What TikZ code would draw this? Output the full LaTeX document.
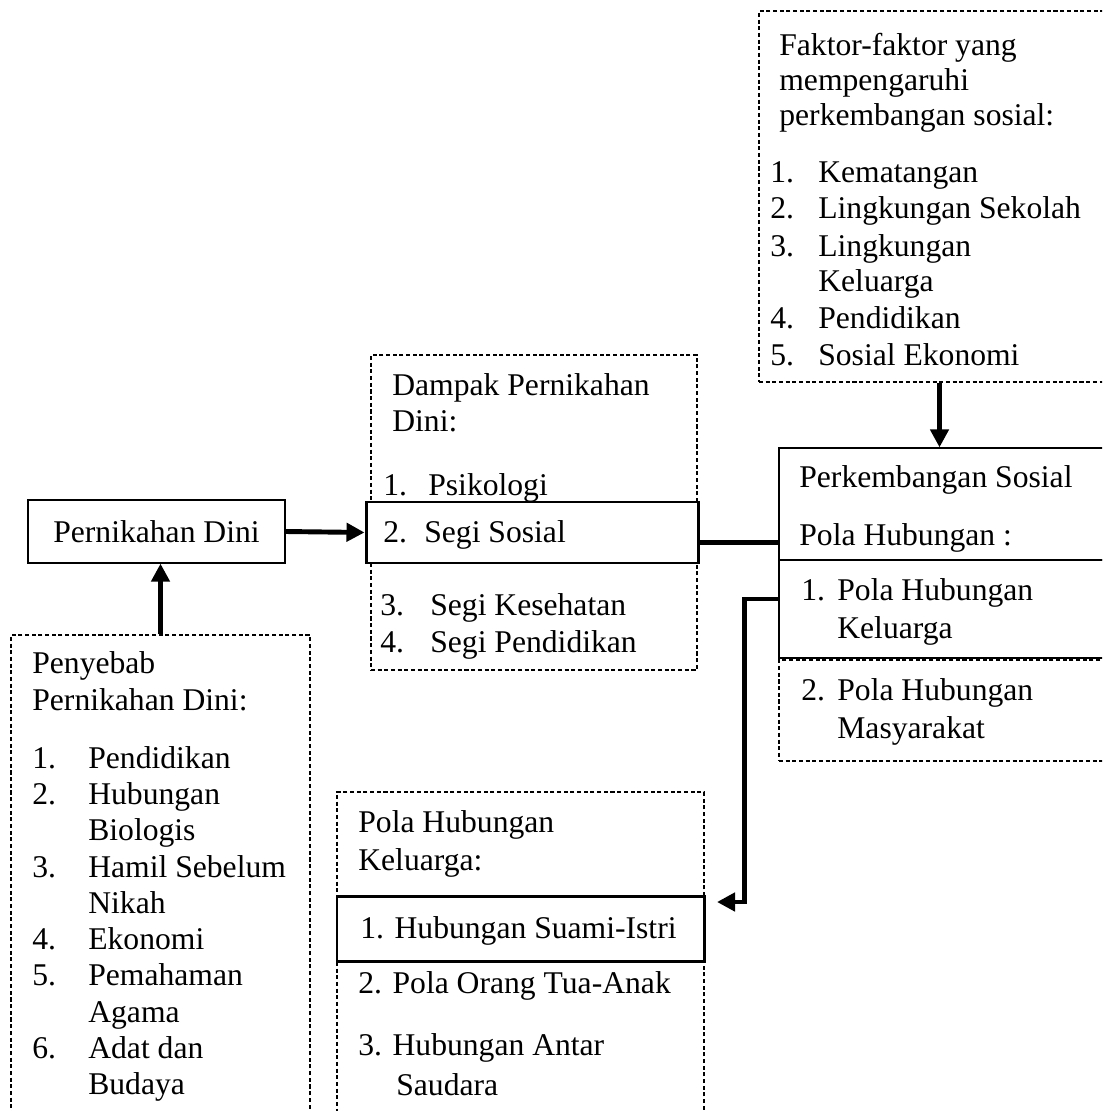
\documentclass[tikz,border=0pt]{standalone}
\usepackage{fontspec}
\setmainfont{Liberation Serif}
\usetikzlibrary{arrows.meta}
\usetikzlibrary{fit}

\begin{document}
\begin{tikzpicture}[x=0.02cm, y=-0.02cm,
  every node/.style={inner sep=0pt, font=\fontsize{18pt}{21pt}\selectfont},
  txt/.style={anchor=base west},
  dashbox/.style={draw, dash pattern=on 2.3pt off 1.5pt, line width=0.6pt},
  thinbox/.style={draw, fill=white, line width=0.7pt},
  thickbox/.style={draw, fill=white, line width=1.7pt},
  arr/.style={line width=2.8pt, -{Triangle[length=0.36cm, width=0.36cm]}},
  link/.style={line width=2.8pt}]
\useasboundingbox (0,0) rectangle (1102,1111);
\clip (0,0) rectangle (1102,1111);

% boxes
\node[dashbox, fit={(759,11) (1120,382)}] (faktor) {};
\node[dashbox, fit={(371,355) (697,670)}] (dampak) {};
\node[thickbox, fit={(366,502) (698,563)}] (sosial) {};
\node[thinbox, minimum width=5.14cm, minimum height=1.26cm] (dini) at (156.5,531.5) {Pernikahan Dini};
\node[dashbox, fit={(11,635) (310,1130)}] (penyebab) {};
\node[thinbox, fit={(779,448) (1106,560)}] (perkTop) {};
\node[thinbox, fit={(779,560) (1106,658)}] (perkKel) {};
\node[dashbox, fit={(779,660) (1106,761)}] (perkMas) {};
\node[dashbox, fit={(337,792) (704,1130)}] (keluarga) {};
\node[thickbox, fit={(337,896) (704,961)}] (suami) {};

% faktor
\node[txt] (fk1) at (779,56) {Faktor-faktor yang};
\node[txt] (fk2) at (779,91) {mempengaruhi};
\node[txt] (fk3) at (779,126) {perkembangan sosial:};
\foreach \k/\n/\t/\y in {1/1./Kematangan/183, 2/2./Lingkungan Sekolah/219,
    3/3./Lingkungan/256, 4//Keluarga/292, 5/4./Pendidikan/328, 6/5./Sosial Ekonomi/365}
  \node[txt] (fl\k) at (770,\y) {\makebox[0.96cm][l]{\n}\t};

% dampak
\node[txt] (dp1) at (392,395) {Dampak Pernikahan};
\node[txt] (dp2) at (392,431) {Dini:};
\node[txt] (dp3) at (383,495) {\makebox[0.9cm][l]{1.}Psikologi};
\node[txt] (dp4) at (383,542) {\makebox[0.82cm][l]{2.}Segi Sosial};
\node[txt] (dp5) at (380,615) {\makebox[1cm][l]{3.}Segi Kesehatan};
\node[txt] (dp6) at (380,652) {\makebox[1cm][l]{4.}Segi Pendidikan};

% penyebab
\node[txt] (pb1) at (32,673) {Penyebab};
\node[txt] (pb2) at (32,710) {Pernikahan Dini:};
\foreach \k/\n/\t/\y in {1/1./Pendidikan/768, 2/2./Hubungan/804, 3//Biologis/840,
    4/3./Hamil Sebelum/877, 5//Nikah/913, 6/4./Ekonomi/949, 7/5./Pemahaman/985,
    8//Agama/1022, 9/6./Adat dan/1058, 10//Budaya/1094}
  \node[txt] (pl\k) at (32,\y) {\makebox[1.12cm][l]{\n}\t};

% perkembangan sosial
\node[txt] (ps1) at (799,487) {Perkembangan Sosial};
\node[txt] (ps2) at (799,545) {Pola Hubungan :};
\node[txt] (ps3) at (801,600) {\makebox[0.72cm][l]{1.}Pola Hubungan};
\node[txt] (ps4) at (837,638) {Keluarga};
\node[txt] (ps5) at (801,700) {\makebox[0.72cm][l]{2.}Pola Hubungan};
\node[txt] (ps6) at (837,738) {Masyarakat};

% pola hubungan keluarga
\node[txt] (kl1) at (358,832) {Pola Hubungan};
\node[txt] (kl2) at (358,870) {Keluarga:};
\node[txt] (kl3) at (360,938) {1. Hubungan Suami-Istri};
\node[txt] (kl4) at (358,993) {2. Pola Orang Tua-Anak};
\node[txt] (kl5) at (358,1055) {3. Hubungan Antar};
\node[txt] (kl6) at (396,1095) {Saudara};

% connectors
\draw[arr] (penyebab.north) -- (penyebab.north |- dini.south);
\draw[arr] (dini.east) -- (sosial.west);
\draw[link] ([yshift=-0.2cm]sosial.east) -- ([yshift=-0.2cm]sosial.east -| perkTop.west);
\draw[arr] (faktor.south) -- (faktor.south |- perkTop.north);
\coordinate (kelIn) at (717,902);
\draw[arr] ([yshift=0.2cm]perkKel.west) -- ++(-0.68cm,0) |- (kelIn);
\end{tikzpicture}
\end{document}
